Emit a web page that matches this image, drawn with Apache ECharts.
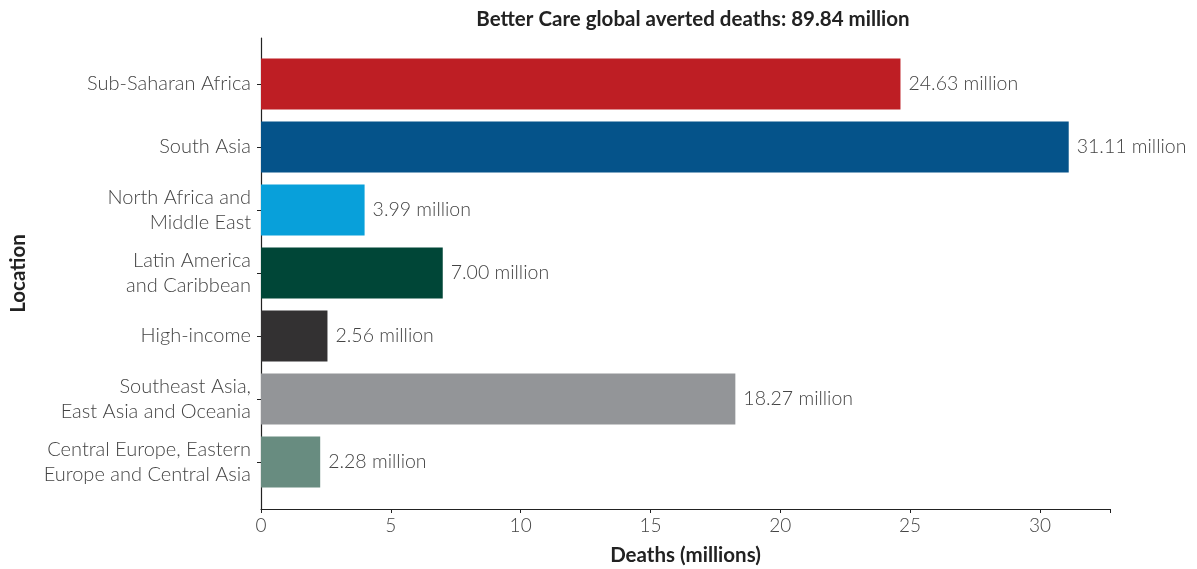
<!DOCTYPE html>
<html>
<head>
<meta charset="utf-8">
<script src="https://cdn.jsdelivr.net/npm/echarts@6/dist/echarts.min.js"></script>
<style>
  html, body { margin: 0; padding: 0; background: #fff; }
  #chart { width: 1197px; height: 569px; }
</style>
</head>
<body>
<div id="chart"></div>
<script>
// Averted deaths by region, in millions
const regions = [
  'Sub-Saharan Africa',
  'South Asia',
  'North Africa and\nMiddle East',
  'Latin America\nand Caribbean',
  'High-income',
  'Southeast Asia,\nEast Asia and Oceania',
  'Central Europe, Eastern\nEurope and Central Asia'
];
const deaths = [24.63, 31.11, 3.99, 7.00, 2.56, 18.27, 2.28];
const barColors = ['#BE1E24', '#05538A', '#08A0DA', '#004637', '#333132', '#939598', '#688C80'];
const xTicks = [0, 5, 10, 15, 20, 25, 30];
const totalDeaths = 89.84;

const FONT = 'Lato';
const xMax = 32.7;

const chart = echarts.init(document.getElementById('chart'));
chart.setOption({
  animation: false,
  title: {
    text: 'Better Care global averted deaths: ' + totalDeaths.toFixed(2) + ' million',
    left: 688,
    textAlign: 'center',
    top: 4,
    textStyle: { fontFamily: FONT, fontWeight: 'bold', fontSize: 20.5, color: '#222' }
  },
  grid: [
    // frame: x axis and the y axis line
    { left: 261, right: 87, top: 38, bottom: 60, outerBoundsMode: 'none', containLabel: false },
    // bars and category labels
    { left: 261, right: 87, top: 52.5, height: 441, outerBoundsMode: 'none', containLabel: false }
  ],
  xAxis: [
    {
      gridIndex: 0, type: 'value', min: 0, max: xMax, interval: 5,
      axisLine: { show: true, lineStyle: { color: '#222', width: 1.2 } },
      axisTick: { show: true, length: 4, lineStyle: { color: '#222' } },
      splitLine: { show: false },
      axisLabel: {
        fontFamily: FONT, fontWeight: 300, fontSize: 19, color: '#444', margin: 7,
        formatter: v => (xTicks.includes(v) ? String(v) : '')
      },
      name: 'Deaths (millions)', nameLocation: 'middle', nameGap: 36,
      nameTextStyle: { fontFamily: FONT, fontWeight: 'bold', fontSize: 20.5, color: '#222' }
    },
    { gridIndex: 1, type: 'value', min: 0, max: xMax, show: false }
  ],
  yAxis: [
    {
      gridIndex: 0, type: 'value', min: 0, max: 1,
      axisLine: { show: true, onZero: false, lineStyle: { color: '#222', width: 1.2 } },
      axisTick: { show: false }, axisLabel: { show: false }, splitLine: { show: false },
      name: 'Location', nameLocation: 'middle', nameGap: 232, nameRotate: 90,
      nameTextStyle: { fontFamily: FONT, fontWeight: 'bold', fontSize: 20.5, color: '#222' }
    },
    {
      gridIndex: 1, type: 'category', data: regions, inverse: true,
      axisLine: { show: false },
      axisTick: { show: true, alignWithLabel: true, length: 4, lineStyle: { color: '#222' } },
      axisLabel: {
        fontFamily: FONT, fontWeight: 300, fontSize: 20, color: '#444',
        lineHeight: 25, margin: 10, align: 'right', padding: [3, 0, 0, 0]
      }
    }
  ],
  series: [{
    type: 'bar',
    xAxisIndex: 1, yAxisIndex: 1,
    barWidth: 51,
    data: deaths.map((v, i) => ({ value: v, itemStyle: { color: barColors[i] } })),
    label: {
      show: true, position: 'right', distance: 8, padding: [2, 0, 0, 0],
      fontFamily: FONT, fontWeight: 300, fontSize: 19.5, color: '#444',
      formatter: p => p.value.toFixed(2) + ' million'
    }
  }]
});
</script>
</body>
</html>
